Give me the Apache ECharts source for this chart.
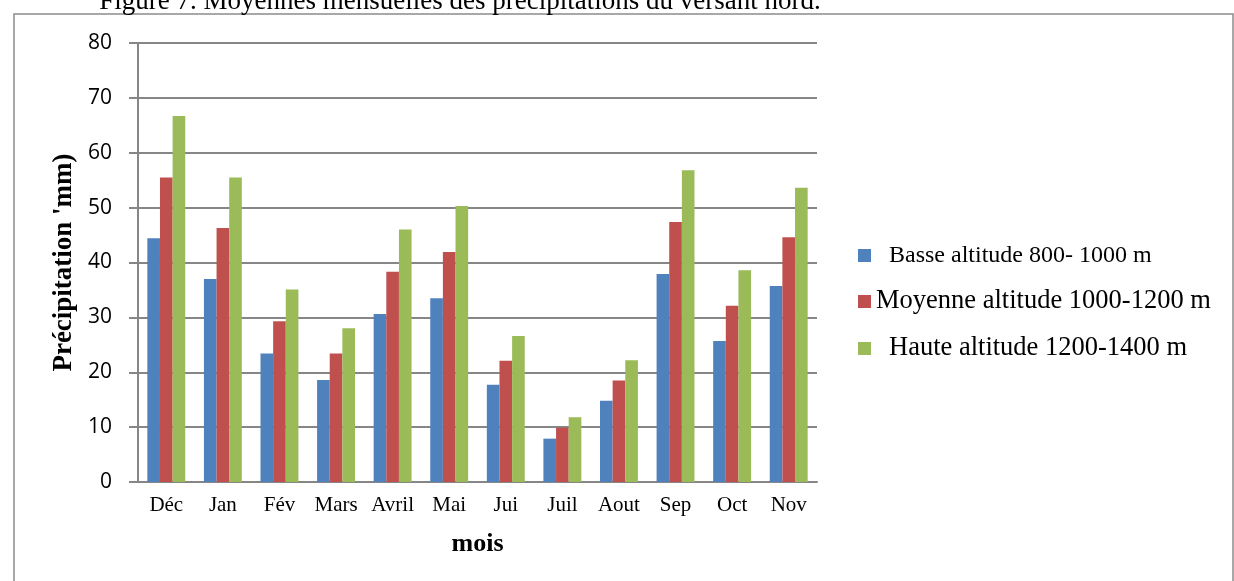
<!DOCTYPE html>
<html>
<head>
<meta charset="utf-8">
<script src="https://cdn.jsdelivr.net/npm/echarts@6/dist/echarts.min.js"></script>
<style>
    html, body { margin: 0; padding: 0; background: #fff; }
    #chart { width: 1234px; height: 581px; }
</style>
</head>
<body>
<div id="chart"></div>
<script>
    var mois = ['Déc', 'Jan', 'Fév', 'Mars', 'Avril', 'Mai', 'Jui', 'Juil', 'Aout', 'Sep', 'Oct', 'Nov'];
    var seriesNames = ['Basse altitude 800- 1000 m', 'Moyenne altitude 1000-1200 m', 'Haute altitude 1200-1400 m'];
    var basse = [44.4, 37.0, 23.4, 18.6, 30.6, 33.5, 17.7, 7.9, 14.8, 37.9, 25.7, 35.7];
    var moyenne = [55.5, 46.3, 29.3, 23.4, 38.3, 41.9, 22.1, 9.9, 18.5, 47.4, 32.1, 44.6];
    var haute = [66.7, 55.5, 35.1, 28.0, 46.0, 50.3, 26.6, 11.8, 22.2, 56.8, 38.6, 53.6];

    var serif = '"Liberation Serif", "Times New Roman", serif';
    var gris = '#868686';

    var chart = echarts.init(document.getElementById('chart'));
    chart.setOption({
        animation: false,
        color: ['#4F81BD', '#C0504D', '#9BBB59'],
        graphic: [
            {
                type: 'rect',
                shape: { x: 14, y: 14, width: 1219, height: 620 },
                style: { fill: 'none', stroke: '#8c8c8c', lineWidth: 1.5 },
                z: -1
            },
            {
                type: 'text',
                x: 460,
                y: 15,
                style: {
                    text: 'Figure 7. Moyennes mensuelles des précipitations du versant nord.',
                    font: '27px ' + serif,
                    fill: '#000',
                    textAlign: 'center',
                    textVerticalAlign: 'bottom'
                }
            }
        ],
        grid: { left: 138, right: 417, top: 43, bottom: 99 },
        legend: {
            orient: 'vertical',
            left: 858,
            top: 243,
            padding: 0,
            itemGap: 20,
            itemWidth: 13,
            itemHeight: 13,
            icon: 'rect',
            textStyle: { fontFamily: serif, fontSize: 24, lineHeight: 25, color: '#000' },
            data: [
                { name: seriesNames[0], textStyle: { padding: [0, 0, 0, 13] } },
                { name: seriesNames[1], textStyle: { fontSize: 26.5 } },
                { name: seriesNames[2], textStyle: { fontSize: 26.5, padding: [0, 0, 0, 13] } }
            ]
        },
        xAxis: {
            type: 'category',
            data: mois,
            name: 'mois',
            nameLocation: 'middle',
            nameGap: 49,
            nameTextStyle: { fontFamily: serif, fontSize: 26, fontWeight: 'bold', color: '#000' },
            axisLine: { lineStyle: { color: gris, width: 2 } },
            axisTick: { show: false },
            axisLabel: { fontFamily: serif, fontSize: 21, color: '#000', margin: 13 }
        },
        yAxis: {
            type: 'value',
            min: 0,
            max: 80,
            interval: 10,
            name: "Précipitation 'mm)",
            nameLocation: 'middle',
            nameRotate: 90,
            nameGap: 60,
            nameTextStyle: { fontFamily: serif, fontSize: 27, fontWeight: 'bold', color: '#000' },
            axisLine: { show: true, lineStyle: { color: gris, width: 2 } },
            axisTick: { show: true, length: 9, lineStyle: { color: gris, width: 2 } },
            axisLabel: { fontFamily: '"Open Sans", sans-serif', fontSize: 21, color: '#000', margin: 26 },
            splitLine: { lineStyle: { color: gris, width: 2 } }
        },
        series: [
            { name: seriesNames[0], type: 'bar', data: basse, barGap: '0%', barCategoryGap: '33%' },
            { name: seriesNames[1], type: 'bar', data: moyenne, barGap: '0%', barCategoryGap: '33%' },
            { name: seriesNames[2], type: 'bar', data: haute, barGap: '0%', barCategoryGap: '33%' }
        ]
    });
</script>
</body>
</html>
